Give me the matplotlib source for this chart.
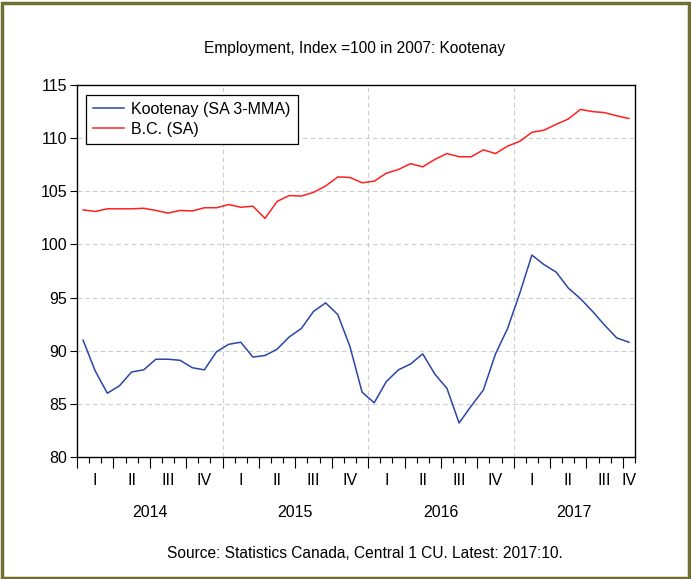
import matplotlib
matplotlib.use("Agg")
import matplotlib.pyplot as plt
from matplotlib.ticker import FixedLocator, NullFormatter
from matplotlib.patches import Rectangle

plt.rcParams['font.family'] = ['Liberation Sans Narrow', 'Liberation Sans', 'DejaVu Sans']

title = "Employment, Index =100 in 2007: Kootenay"
source = "Source: Statistics Canada, Central 1 CU. Latest: 2017:10."
series_names = ["Kootenay (SA 3-MMA)", "B.C. (SA)"]
years = ["2014", "2015", "2016", "2017"]
quarters = ["I", "II", "III", "IV"]

# Monthly values, Jan 2014 - Oct 2017
kootenay = [91.0, 88.1, 86.0, 86.7, 88.0, 88.2, 89.2, 89.2, 89.1, 88.4, 88.2, 89.9,
            90.6, 90.8, 89.4, 89.55, 90.15, 91.3, 92.1, 93.7, 94.5, 93.4, 90.4, 86.1,
            85.1, 87.1, 88.2, 88.75, 89.7, 87.8, 86.45, 83.2, 84.8, 86.3, 89.7, 92.1,
            95.4, 99.0, 98.1, 97.4, 95.9, 94.9, 93.7, 92.4, 91.2, 90.8]
bc = [103.25, 103.1, 103.35, 103.35, 103.35, 103.4, 103.2, 102.95, 103.2, 103.15, 103.45, 103.45,
      103.75, 103.5, 103.6, 102.45, 104.05, 104.6, 104.55, 104.9, 105.5, 106.35, 106.3, 105.8,
      105.95, 106.7, 107.05, 107.6, 107.3, 108.0, 108.55, 108.25, 108.25, 108.9, 108.55, 109.25,
      109.7, 110.55, 110.75, 111.3, 111.8, 112.7, 112.5, 112.4, 112.1, 111.85]

n = len(kootenay)
x = list(range(n))

fig = plt.figure(figsize=(6.91, 5.79), dpi=100)
ax = fig.add_axes([77 / 691, 1 - 457 / 579, (635 - 77) / 691, (457 - 85) / 579])

ax.plot(x, kootenay, color='#2b45a8', lw=1.1, label=series_names[0])
ax.plot(x, bc, color='#ff2020', lw=1.1, label=series_names[1])

ax.set_xlim(-0.5, n - 0.5)
ax.set_ylim(80, 115)
ax.set_yticks(range(80, 116, 5))
ax.tick_params(axis='y', direction='out', length=5, width=0.8, labelsize=11.5, pad=2)

# month ticks (minor) and quarter ticks (major)
month_edges = [k - 0.5 for k in range(n + 1)]
quarter_edges = [k - 0.5 for k in range(0, n + 1, 3)]
ax.xaxis.set_major_locator(FixedLocator(quarter_edges))
ax.xaxis.set_minor_locator(FixedLocator(month_edges))
ax.xaxis.set_major_formatter(NullFormatter())
ax.tick_params(axis='x', which='major', direction='out', length=8, width=0.8)
ax.tick_params(axis='x', which='minor', direction='out', length=4, width=0.8)

# grid
for yv in range(85, 115, 5):
    ax.axhline(yv, color='#cccccc', lw=0.8, ls=(0, (4, 3)), zorder=0)
for yb in range(12, n, 12):
    ax.axvline(yb - 0.5, color='#cccccc', lw=0.8, ls=(0, (4, 3)), zorder=0)

for s in ax.spines.values():
    s.set_linewidth(1.0)

# quarter labels
trans = ax.get_xaxis_transform()
for q0 in range(0, n, 3):
    idx = [i for i in range(q0, min(q0 + 3, n))]
    cx = sum(idx) / len(idx)
    ax.text(cx, -0.062, quarters[(q0 // 3) % 4], transform=trans, ha='center', va='center', fontsize=11.5)
# year labels
for yi, yr in enumerate(years):
    idx = [i for i in range(yi * 12, min(yi * 12 + 12, n))]
    cx = (idx[0] - 0.5 + idx[-1] + 0.5) / 2
    ax.text(cx, -0.148, yr, transform=trans, ha='center', va='center', fontsize=11.5)

leg = ax.legend(loc='upper left', bbox_to_anchor=(0.016, 0.974), fontsize=11.5, frameon=True,
                fancybox=False, edgecolor='black', framealpha=1, handlelength=1.95,
                borderpad=0.45, labelspacing=0.3, handletextpad=0.45, borderaxespad=0)
leg.get_frame().set_linewidth(0.9)

fig.text(355 / 691, 1 - 48 / 579, title, ha='center', va='center', fontsize=11.2)
fig.text(365 / 691, 1 - 553 / 579, source, ha='center', va='center', fontsize=11.2)

# olive border
fig.patches.append(Rectangle((1.5 / 691, 1.5 / 579), 1 - 3.5 / 691, 1 - 4 / 579, transform=fig.transFigure,
                             fill=False, edgecolor='#6e7034', lw=2.5))

fig.savefig('out.png', dpi=100)
